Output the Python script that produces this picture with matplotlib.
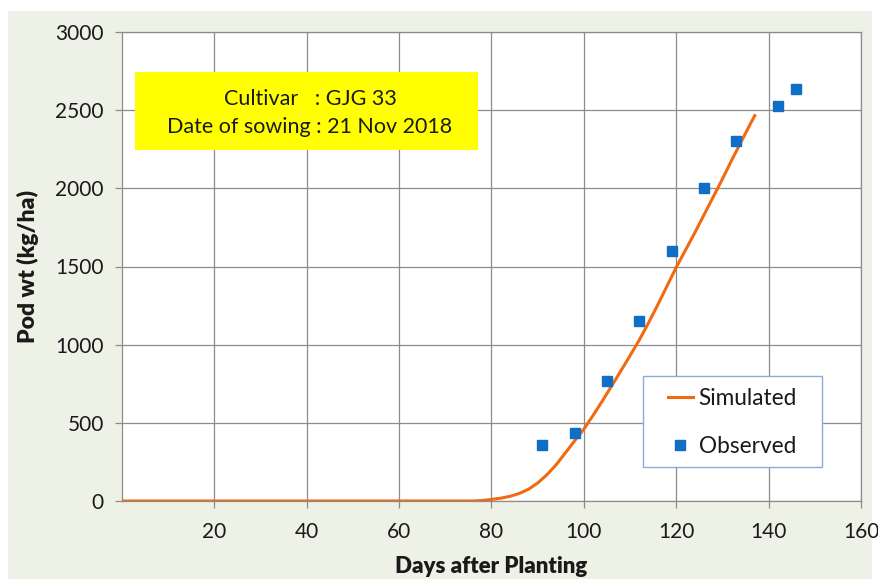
import matplotlib
matplotlib.use("Agg")
import matplotlib.pyplot as plt
from matplotlib.patches import Rectangle

plt.rcParams['font.family'] = ['Lato', 'DejaVu Sans']

# Simulated pod weight (kg/ha) vs days after planting
sim_days = [0, 10, 20, 30, 40, 50, 60, 70, 76, 78, 80, 82, 84, 86, 88, 90, 92, 94, 96, 98,
            100, 102, 104, 106, 108, 110, 112, 114, 116, 118, 120, 122, 124, 126, 128,
            130, 132, 134, 136, 137]
sim_vals = [0, 0, 0, 0, 0, 0, 0, 0, 0, 3, 10, 18, 30, 48, 75, 115, 168, 232, 308, 385,
            460, 548, 640, 735, 832, 930, 1030, 1140, 1255, 1375, 1495, 1605, 1715, 1830,
            1945, 2060, 2180, 2295, 2410, 2465]

# Observed pod weight
obs_days = [91, 98, 105, 112, 119, 126, 133, 142, 146]
obs_vals = [358, 435, 768, 1150, 1600, 2000, 2300, 2525, 2635]

x_ticks = [20, 40, 60, 80, 100, 120, 140, 160]
y_ticks = [0, 500, 1000, 1500, 2000, 2500, 3000]

W, H = 879, 579
fig = plt.figure(figsize=(W / 100, H / 100), dpi=100)
fig.patch.set_facecolor('white')
bg = Rectangle((8 / W, 0), (872 - 8) / W, (H - 11) / H,
               transform=fig.transFigure, facecolor='#eef1e5',
               edgecolor='none', zorder=-10)
fig.add_artist(bg)

ax = fig.add_axes([122 / W, (H - 501) / H, (861 - 122) / W, (501 - 32) / H])
ax.set_zorder(1)
ax.set_facecolor('white')
ax.set_xlim(0, 160)
ax.set_ylim(0, 3000)
ax.set_xticks(x_ticks)
ax.set_yticks(y_ticks)
ax.grid(True, color='#8c8c8c', linewidth=0.9)
ax.set_axisbelow(True)
for s in ax.spines.values():
    s.set_color('#8c8c8c')
    s.set_linewidth(0.9)
ax.tick_params(axis='both', colors='#8c8c8c', length=5, width=0.9,
               labelcolor='#1a1a1a', labelsize=15)
ax.tick_params(axis='x', pad=10)
ax.tick_params(axis='y', pad=8)

ax.plot(sim_days, sim_vals, color='#f26a10', linewidth=2.2, label='Simulated', zorder=3)
ax.plot(obs_days, obs_vals, linestyle='none', marker='s', markersize=7.5,
        color='#0f6fc6', label='Observed', zorder=4)

ax.set_xlabel('Days after Planting', fontsize=16, fontweight='heavy', color='#1a1a1a', labelpad=10)
ax.set_ylabel('Pod wt (kg/ha)', fontsize=16.5, fontweight='heavy', color='#1a1a1a', labelpad=12)

# Annotation box
box = Rectangle((135 / W, (H - 150) / H), (478 - 135) / W, (150 - 72) / H,
                transform=fig.transFigure, facecolor='#ffff00', edgecolor='none', zorder=5)
fig.add_artist(box)
fig.text((135 + 478) / 2 / W + 0.004, (H - 113) / H, 'Cultivar   : GJG 33\nDate of sowing : 21 Nov 2018',
         ha='center', va='center', fontsize=15.5, color='#1a1a1a', linespacing=1.55, zorder=6)

# Legend frame
lx0, ly0, lx1, ly1 = 643, 376, 822, 467
frame = Rectangle((lx0 / W, (H - ly1) / H), (lx1 - lx0) / W, (ly1 - ly0) / H,
                  transform=fig.transFigure, facecolor='white', edgecolor='#8eaadb',
                  linewidth=1.0, zorder=8)
ax.add_artist(frame)
leg = ax.legend(loc='center', bbox_to_anchor=((lx0 + lx1) / 2 / W, (H - (ly0 + ly1) / 2 - 1) / H),
                bbox_transform=fig.transFigure,
                frameon=False, fontsize=16.3, handlelength=1.1,
                borderpad=0.2, labelspacing=1.2, handletextpad=0.25, borderaxespad=0)
leg.set_zorder(9)
for t in leg.get_texts():
    t.set_color('#1a1a1a')

fig.savefig('out.png', dpi=100, facecolor=fig.get_facecolor())
